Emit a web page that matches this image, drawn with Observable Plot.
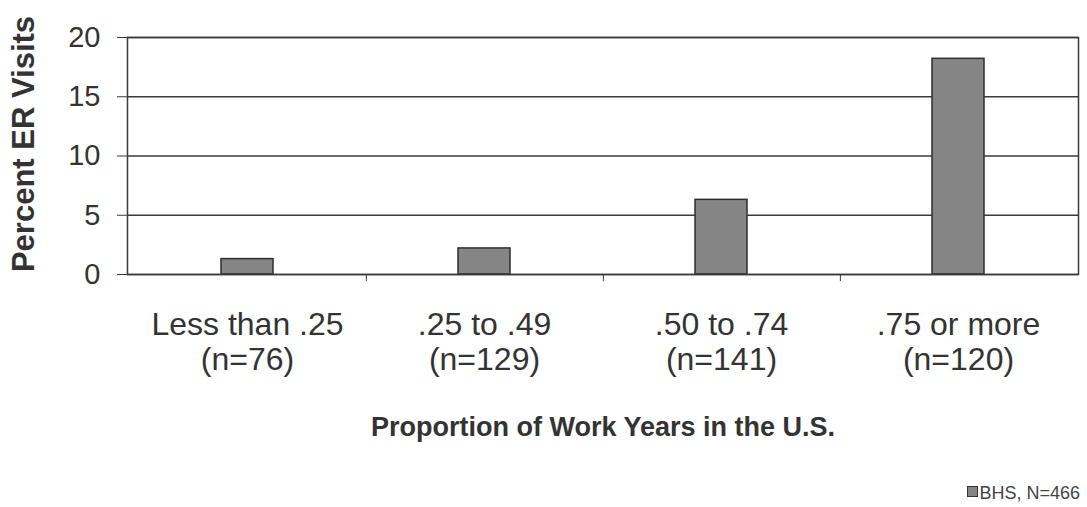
<!DOCTYPE html>
<html><head><meta charset="utf-8">
<script src="https://cdn.jsdelivr.net/npm/d3@7"></script>
<script src="https://cdn.jsdelivr.net/npm/@observablehq/plot@0.6"></script>
<style>
body{margin:0;background:#fff;font-family:"Liberation Sans",Arial,sans-serif;width:1087px;height:507px;overflow:hidden}
#legend{height:37px;box-sizing:border-box;padding-top:13px;text-align:right;padding-right:7px;font-size:18px;line-height:20px;color:#444}
#legend .sw{display:inline-block;width:9px;height:9px;background:#858585;border:1px solid #333;margin-right:1px;vertical-align:2px}
</style></head>
<body><div id="chart"></div><div id="legend"></div>
<script>
const categories = ["Less than .25\n(n=76)", ".25 to .49\n(n=129)", ".50 to .74\n(n=141)", ".75 or more\n(n=120)"];
const values = [1.3, 2.2, 6.3, 18.2];
const yTicks = [0, 5, 10, 15, 20];
const xTitle = "Proportion of Work Years in the U.S.";
const yTitle = "Percent ER Visits";
const seriesName = "BHS, N=466";

const data = categories.map((c, i) => ({category: c, value: values[i]}));
const W = 1087, ML = 127, MR = 9;
const step = (W - ML - MR) / categories.length;
const ink = "#3a3a3a";

const chart = Plot.plot({
  width: W, height: 470,
  marginLeft: ML, marginRight: MR, marginTop: 37, marginBottom: 196,
  style: {fontFamily: '"Liberation Sans", Arial, sans-serif', color: "#333", background: "#fff"},
  x: {domain: categories, paddingInner: 0.78, paddingOuter: 0.39},
  y: {domain: [0, 20]},
  marks: [
    Plot.ruleY(yTicks, {stroke: ink, strokeWidth: 1.5}),
    Plot.barY(data, {x: "category", y: "value", fill: "#858585", stroke: "#2e2e2e", strokeWidth: 1.5}),
    Plot.ruleX(categories.slice(0, -1), {x: d => d, dx: step / 2, y1: 0, y2: -0.6, stroke: ink, strokeWidth: 1}),
    Plot.frame({stroke: ink, strokeWidth: 1.5}),
    Plot.axisY(yTicks, {tickSize: 10, tickPadding: 17, fontSize: 29, label: null, stroke: ink, fill: "#333"}),
    Plot.axisX({tickSize: 0, tickPadding: 35, fontSize: 32, lineHeight: 1.1, label: null, fill: "#333"}),
    Plot.text([xTitle], {frameAnchor: "bottom", dy: 153, lineAnchor: "middle", fontSize: 27, fontWeight: "bold", fill: "#333"}),
    Plot.text([yTitle], {frameAnchor: "left", textAnchor: "middle", rotate: -90, dx: -103, dy: -12, lineAnchor: "middle", fontSize: 31, fontWeight: "bold", fill: "#333"})
  ]
});
document.getElementById("chart").appendChild(chart);
document.getElementById("legend").innerHTML = '<span class="sw"></span>' + seriesName;
</script>
</body></html>
